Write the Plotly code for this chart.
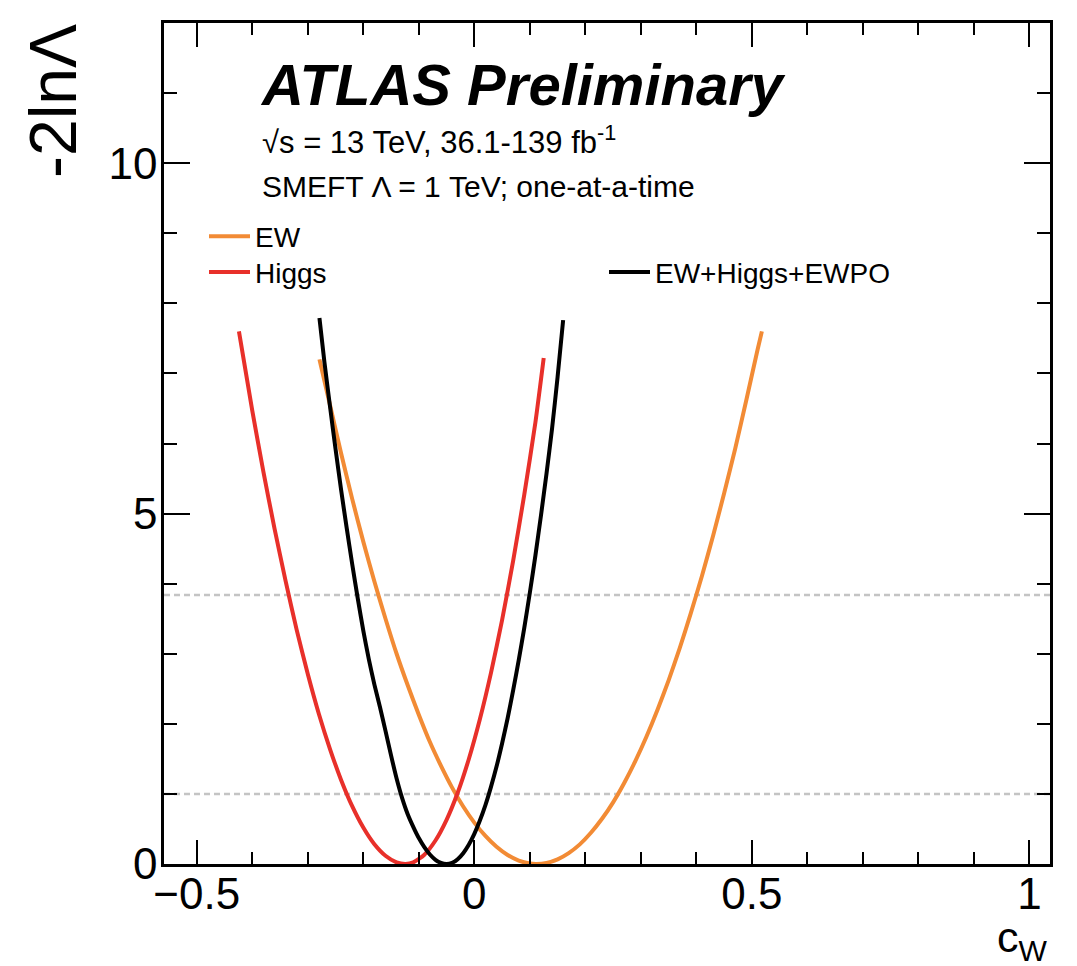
import plotly.graph_objects as go

# ---------------- data ----------------
ew_x = [-0.279, -0.26, -0.24, -0.22, -0.20, -0.18, -0.16, -0.14, -0.12, -0.10,
        -0.08, -0.06, -0.04, -0.02, 0.00, 0.02, 0.04, 0.06, 0.08, 0.10, 0.112,
        0.13, 0.15, 0.17, 0.19, 0.21, 0.23, 0.25, 0.27, 0.29, 0.31, 0.33, 0.35,
        0.37, 0.39, 0.41, 0.43, 0.45, 0.47, 0.49, 0.51, 0.518]
ew_y = [7.20, 6.55, 5.86, 5.21, 4.60, 4.03, 3.50, 3.00, 2.55, 2.13,
        1.74, 1.40, 1.09, 0.82, 0.59, 0.40, 0.245, 0.128, 0.048, 0.007, 0.0,
        0.015, 0.067, 0.156, 0.28, 0.445, 0.645, 0.88, 1.156, 1.467, 1.815, 2.20, 2.62,
        3.08, 3.58, 4.11, 4.68, 5.29, 5.93, 6.62, 7.33, 7.60]

higgs_x = [-0.424, -0.40, -0.38, -0.36, -0.34, -0.32, -0.30, -0.28, -0.26, -0.24,
           -0.22, -0.20, -0.18, -0.16, -0.14, -0.124, -0.11, -0.09, -0.07, -0.05,
           -0.03, -0.01, 0.01, 0.03, 0.05, 0.07, 0.09, 0.11, 0.125]
higgs_y = [7.60, 6.47, 5.60, 4.79, 4.04, 3.34, 2.71, 2.14, 1.64, 1.20,
           0.825, 0.52, 0.282, 0.117, 0.023, 0.0, 0.023, 0.133, 0.335, 0.63,
           1.016, 1.495, 2.065, 2.727, 3.48, 4.33, 5.27, 6.30, 7.22]

comb_x = [-0.279, -0.27, -0.26, -0.25, -0.24, -0.23, -0.22, -0.21, -0.20, -0.19,
          -0.18, -0.17, -0.16, -0.15, -0.14, -0.13, -0.12, -0.11, -0.10, -0.09,
          -0.08, -0.07, -0.06, -0.05, -0.04, -0.03, -0.02, -0.01, 0.00, 0.01,
          0.02, 0.03, 0.04, 0.05, 0.06, 0.07, 0.08, 0.09, 0.10, 0.11, 0.12,
          0.13, 0.14, 0.15, 0.16]
comb_y = [7.79, 7.16, 6.53, 5.92, 5.34, 4.80, 4.28, 3.79, 3.33, 2.92,
          2.56, 2.24, 1.90, 1.55, 1.22, 0.94, 0.71, 0.53, 0.37, 0.24,
          0.135, 0.06, 0.015, 0.0, 0.017, 0.069, 0.155, 0.275, 0.43, 0.62,
          0.84, 1.10, 1.39, 1.72, 2.08, 2.48, 2.91, 3.37, 3.87, 4.40, 4.97,
          5.57, 6.21, 6.95, 7.76]

thresholds = [1.0, 3.84]

x_major = [-0.5, 0.0, 0.5, 1.0]
x_major_text = ["\u22120.5", "0", "0.5", "1"]
x_minor = [-0.4, -0.3, -0.2, -0.1, 0.1, 0.2, 0.3, 0.4, 0.6, 0.7, 0.8, 0.9]
y_major = [0, 5, 10]
y_minor = [1, 2, 3, 4, 6, 7, 8, 9, 11]

# ---------------- layout geometry (screen pixels) ----------------
OFF = 8                      # default body margin of the html page
W, H = 1077 - OFF, 966 - OFF
L, R, T, B = 164, 1050, 21, 864.5   # frame in screen pixels


def xp(px):
    return (px - L) / (R - L)


def yp(py):
    return (B - py) / (B - T)


FONT = "Liberation Sans, Arial, Helvetica, sans-serif"
C_EW = "#f28b35"
C_H = "#e8302a"
C_C = "#000000"

fig = go.Figure()
fig.add_trace(go.Scatter(x=ew_x, y=ew_y, mode="lines", name="EW",
                         line=dict(color=C_EW, width=4, shape="spline", smoothing=0.6),
                         legend="legend"))
fig.add_trace(go.Scatter(x=higgs_x, y=higgs_y, mode="lines", name="Higgs",
                         line=dict(color=C_H, width=4, shape="spline", smoothing=0.6),
                         legend="legend3"))
fig.add_trace(go.Scatter(x=comb_x, y=comb_y, mode="lines", name="EW+Higgs+EWPO",
                         line=dict(color=C_C, width=4, shape="spline", smoothing=0.6),
                         legend="legend2"))

for t in thresholds:
    fig.add_shape(type="line", xref="paper", x0=0, x1=1, yref="y", y0=t, y1=t,
                  line=dict(color="#c4c4c4", width=2.5, dash="6px,4px"), layer="below")

axis_common = dict(showgrid=False, zeroline=False, showline=True, linecolor="black",
                   linewidth=2.5, mirror="allticks", ticks="inside", tickwidth=2,
                   tickcolor="black", tickfont=dict(family=FONT, size=44, color="black"))

fig.update_xaxes(range=[-0.559, 1.037], tickmode="array", tickvals=x_major,
                 ticktext=x_major_text, ticklen=24, ticklabelstandoff=-11,
                 minor=dict(tickmode="array", tickvals=x_minor, ticks="inside",
                            ticklen=12, tickwidth=2, tickcolor="black", showgrid=False),
                 **axis_common)
fig.update_yaxes(range=[0, 12], tickmode="array", tickvals=y_major, ticklen=26,
                 ticklabelstandoff=-5,
                 minor=dict(tickmode="array", tickvals=y_minor, ticks="inside",
                            ticklen=13, tickwidth=2, tickcolor="black", showgrid=False),
                 **axis_common)

annotations = [
    dict(text="ATLAS Preliminary", x=xp(258), y=yp(117), xanchor="left", yanchor="bottom",
         font=dict(family=FONT, size=58, color="black", weight="bold", style="italic")),
    dict(text="\u221as = 13 TeV, 36.1-139 fb<sup>-1</sup>", x=xp(260), y=yp(160),
         xanchor="left", yanchor="bottom", font=dict(family=FONT, size=31, color="black")),
    dict(text="SMEFT \u039b = 1 TeV; one-at-a-time", x=xp(260), y=yp(204),
         xanchor="left", yanchor="bottom", font=dict(family=FONT, size=30, color="black")),
    dict(text="-2ln\u039b", textangle=-90, x=xp(53), y=yp(20), xanchor="center",
         yanchor="top", font=dict(family=FONT, size=66, color="black")),
    dict(text="c<sub>W</sub>", x=xp(1050), y=yp(912), xanchor="right", yanchor="top",
         font=dict(family=FONT, size=43, color="black")),
]
for a in annotations:
    a.update(xref="paper", yref="paper", showarrow=False)

legend_common = dict(xanchor="left", yanchor="top", bgcolor="rgba(0,0,0,0)",
                     borderwidth=0, itemwidth=41,
                     font=dict(family=FONT, size=28, color="black"))

fig.update_layout(
    width=W, height=H, autosize=False,
    margin=dict(l=L - OFF, r=W - (R - OFF), t=T - OFF, b=H - (B - OFF), pad=0),
    paper_bgcolor="white", plot_bgcolor="white",
    annotations=annotations,
    showlegend=True,
    legend=dict(x=xp(204), y=yp(210), **legend_common),
    legend3=dict(x=xp(204), y=yp(246), **legend_common),
    legend2=dict(x=xp(604), y=yp(246), **legend_common),
)

fig.write_html("out.html")
